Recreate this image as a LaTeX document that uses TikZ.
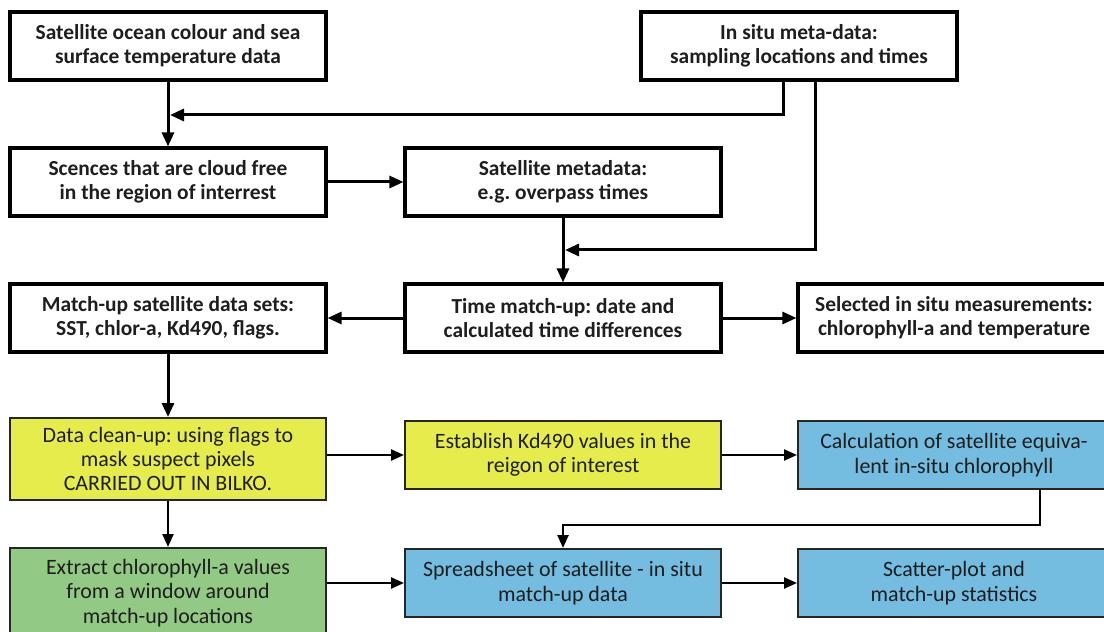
\documentclass[tikz,border=0pt]{standalone}
\usepackage{fontspec}
\setmainfont{Carlito}
\usepackage{xcolor}
\usetikzlibrary{arrows.meta}
\frenchspacing

\definecolor{boxyellow}{RGB}{230,236,76}
\definecolor{boxgreen}{RGB}{146,201,132}
\definecolor{boxblue}{RGB}{116,188,224}
\definecolor{inkgray}{RGB}{30,30,30}

\tikzset{
  stepbox/.style={draw=black, line width=3.2bp, fill=white, align=center, text=inkgray,
    minimum width=316bp, minimum height=68bp, inner sep=0pt,
    font=\fontsize{21.5}{24}\selectfont\bfseries},
  colbox/.style={draw=black!85, line width=2bp, align=center, text=inkgray,
    minimum width=316bp, minimum height=68bp, inner sep=0pt,
    font=\fontsize{22}{24.5}\selectfont},
  arr/.style={line width=3bp, -{Triangle[length=14bp,width=12bp]}},
  thinarr/.style={line width=2.4bp, -{Triangle[length=13bp,width=11bp]}}
}

\begin{document}
\begin{tikzpicture}[x=1bp,y=-1bp]
\clip (0,0) rectangle (1104,632);
\fill[white] (0,0) rectangle (1104,632);
% top rows
\node[stepbox] (sat) at (168,46) {Satellite ocean colour and sea\\surface temperature data};
\node[stepbox] (insitu) at (799,46) {In situ meta-data:\\sampling locations and times};
\node[stepbox] (scenes) at (168,182) {Scences that are cloud free\\in the region of interrest};
\node[stepbox] (meta) at (563,182) {Satellite metadata:\\e.g. overpass times};
\node[stepbox] (match) at (168,318) {Match-up satellite data sets:\\SST, chlor-a, Kd490, flags.};
\node[stepbox] (time) at (563,318) {Time match-up: date and\\calculated time differences};
\node[stepbox, minimum width=312bp] (sel) at (954,318) {Selected in situ measurements:\\chlorophyll-a and temperature};
% coloured rows
\node[colbox, fill=boxyellow, minimum height=82bp] (clean) at (168,459) {Data clean-up: using flags to\\mask suspect pixels\\CARRIED OUT IN BILKO.};
\node[colbox, fill=boxyellow] (est) at (563,455) {Establish Kd490 values in the\\reigon of interest};
\node[colbox, fill=boxblue, minimum width=312bp] (calc) at (954,455) {Calculation of satellite equiva-\\lent in-situ chlorophyll};
\node[colbox, fill=boxgreen, minimum height=90bp] (green) at (168,593) {Extract chlorophyll-a values\\from a window around\\match-up locations};
\node[colbox, fill=boxblue] (sheet) at (563,583) {Spreadsheet of satellite - in situ\\match-up data};
\node[colbox, fill=boxblue, minimum width=312bp] (scatter) at (954,583) {Scatter-plot and\\match-up statistics};
% joins
\coordinate (j1) at (170,115);
\coordinate (j2) at (565,250);
\coordinate (j3) at (563,525);
% connectors
\draw[arr] (sat) -- (scenes);
\draw[arr] ([xshift=-16bp]insitu.south) |- (j1);
\draw[arr] ([xshift=16bp]insitu.south) |- (j2);
\draw[arr] (scenes) -- (meta);
\draw[arr] (meta) -- (time);
\draw[arr] (time) -- (match);
\draw[arr] (time) -- (sel);
\draw[arr] (match) -- (clean);
\draw[thinarr] (clean.east |- est) -- (est.west);
\draw[thinarr] (clean) -- (green.north);
\draw[thinarr] (est) -- (calc);
\draw[thinarr] ([xshift=86bp]calc.south) |- (j3) -- (sheet.north);
\draw[thinarr] (green.east |- sheet) -- (sheet.west);
\draw[thinarr] (sheet) -- (scatter);
\end{tikzpicture}
\end{document}
